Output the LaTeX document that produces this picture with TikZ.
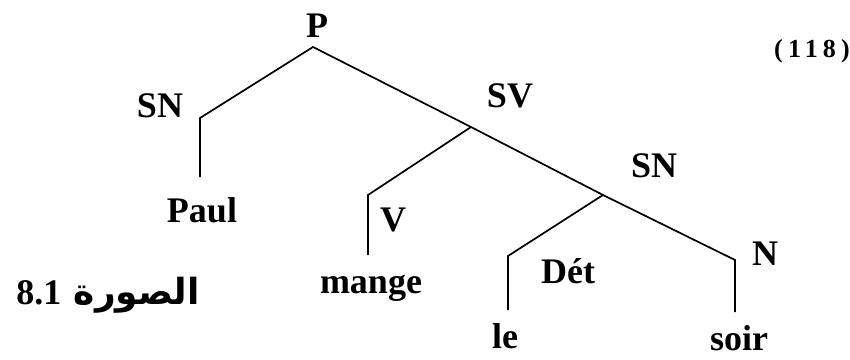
\documentclass[tikz,border=0pt]{standalone}
\usepackage{fontspec}
\setmainfont{Liberation Serif}
\newfontfamily\arabicfont[Script=Arabic]{DejaVu Sans}
\TeXXeTstate=1
\usetikzlibrary{positioning}

\begin{document}
\begin{tikzpicture}[x=1pt,y=-1pt,line width=1.7pt,
  lbl/.style={font=\bfseries\fontsize{36}{38}\selectfont,inner sep=0pt}]
  \useasboundingbox (0,0) rectangle (850,359);
  % branching points
  \coordinate (p) at (313,47);
  \coordinate (sva) at (471,127);
  \coordinate (snb) at (603,195);
  \coordinate (sna) at (200,118);
  \coordinate (va) at (368,195);
  \coordinate (deta) at (508,256);
  \coordinate (na) at (735,260);
  % ends of the stems
  \coordinate (pauls) at (200,177);
  \coordinate (manges) at (368,255);
  \coordinate (les) at (508,310);
  \coordinate (soirs) at (735,312);
  \draw (pauls) -- (sna) -- (p) -- (sva) -- (snb) -- (na) -- (soirs);
  \draw (manges) -- (va) -- (sva);
  \draw (les) -- (deta) -- (snb);
  % categories and words
  \node[lbl] (P) at (317,26) {P};
  \node[lbl] (SN1) at (160,106) {SN};
  \node[lbl] (SV) at (510,96) {SV};
  \node[lbl] (SN2) at (654,166) {SN};
  \node[lbl] (V) at (393,220) {V};
  \node[lbl] (Det) at (568,271) {Dét};
  \node[lbl] (N) at (765,254) {N};
  \node[lbl] (Paul) at (202,210) {Paul};
  \node[lbl] (mange) at (371,288) {mange};
  \node[lbl] (le) at (505,336) {le};
  \node[lbl] (soir) at (739,338) {soir};
  \node[font=\bfseries\fontsize{26}{28}\selectfont\addfontfeatures{LetterSpace=20},inner sep=0pt] (ex) at (812,51) {(118)};
  \node[font=\bfseries\fontsize{36}{38}\selectfont,inner sep=0pt] (fig) at (108,295)
    {\arabicfont\beginR الصورة \beginL{\rmfamily 8.1}\endL\endR};
\end{tikzpicture}
\end{document}
